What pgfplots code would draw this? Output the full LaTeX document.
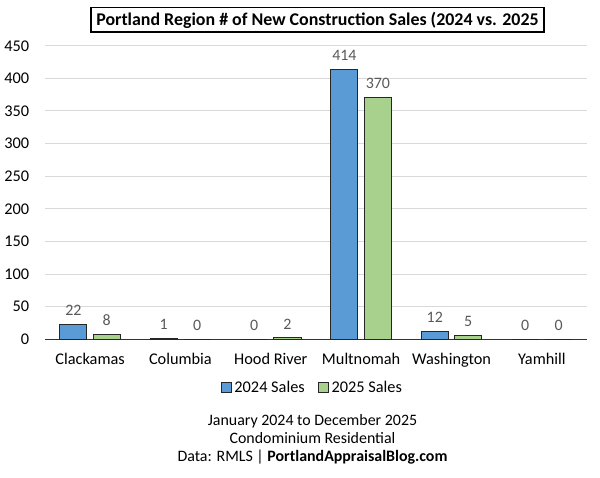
\documentclass[border=0pt]{standalone}
\usepackage{pgfplots}
\pgfplotsset{compat=1.18}
\usepackage{fontspec}
\setmainfont{Carlito}
\definecolor{b24}{HTML}{5B9BD5}
\definecolor{g25}{HTML}{A9D18E}
\definecolor{lbl}{HTML}{595959}
\definecolor{grd}{HTML}{D9D9D9}
\begin{document}
\begin{tikzpicture}
\path (0,0) rectangle (450pt,360pt);
\begin{axis}[
  at={(31.5pt,104.25pt)}, anchor=south west,
  scale only axis, width=408.75pt, height=221.25pt,
  /pgf/number format/assume math mode=true,
  ymin=0, ymax=450, ytick={0,50,...,450},
  xmin=-0.5, xmax=5.5,
  xtick={0,...,5},
  xticklabels={Clackamas,Columbia,Hood River,Multnomah,Washington,Yamhill},
  minor xtick={-0.5,0.5,...,5.5},
  axis x line*=bottom, axis y line*=left,
  y axis line style={draw=none},
  x axis line style={black!80, line width=0.75pt, -},
  ytick style={draw=none},
  xtick style={draw=none},
  minor x tick style={black!80, line width=0.75pt},
  minor tick length=3.75pt,
  tick align=outside,
  ymajorgrids, grid style={grd, line width=0.75pt},
  ticklabel style={font=\fontsize{12.3}{14}\selectfont, text=black},
  yticklabel style={xshift=-4pt},
  xticklabel style={yshift=-3pt},
  ybar, bar width=0.3,
  nodes near coords,
  nodes near coords style={font=\fontsize{12}{14}\selectfont, text=lbl, yshift=3pt},
  legend columns=2,
  legend style={at={(0.494,-0.166)}, anchor=center, draw=none,
    font=\fontsize{12.3}{14}\selectfont, /tikz/every even column/.append style={column sep=8pt}},
  legend image code/.code={\draw[#1] (0pt,-3.75pt) rectangle (7.5pt,3.75pt);},
]
\addplot[draw=black!85, line width=0.75pt, fill=b24, bar shift=-0.185] coordinates {(0,22) (1,1) (2,0) (3,414) (4,12) (5,0)};
\addlegendentry{2024 Sales}
\addplot[draw=black!85, line width=0.75pt, fill=g25, bar shift=0.185] coordinates {(0,8) (1,0) (2,2) (3,370) (4,5) (5,0)};
\addlegendentry{2025 Sales}
\end{axis}
\node[draw, line width=0.9pt, inner xsep=4pt, inner ysep=3pt, font=\fontsize{13.5}{16}\selectfont\bfseries] at (237pt,345pt) {Portland Region \# of New Construction Sales (2024 vs. 2025};
\node[font=\fontsize{12}{14}\selectfont] at (233.25pt,42.5pt) {January 2024 to December 2025};
\node[font=\fontsize{12}{14}\selectfont] at (233.25pt,29.5pt) {Condominium Residential};
\node[font=\fontsize{12}{14}\selectfont] at (233.25pt,15.5pt) {Data: RMLS | \textbf{PortlandAppraisalBlog.com}};
\end{tikzpicture}
\end{document}
